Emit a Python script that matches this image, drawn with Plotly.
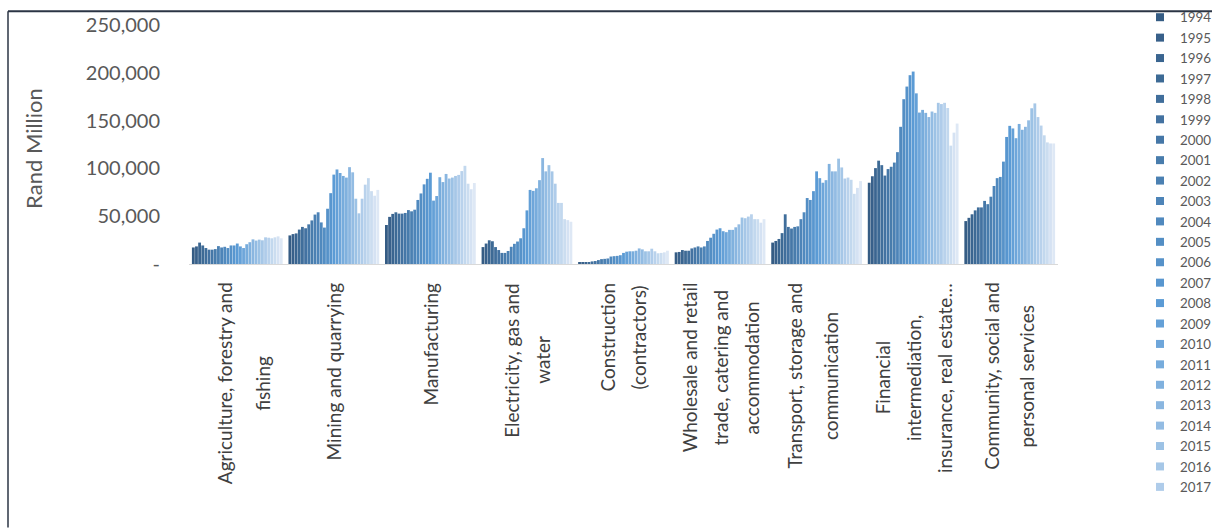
import plotly.graph_objects as go

# Sector value added, Rand million, 1994-2022
sector_lines = [
    ["Agriculture, forestry and", "fishing"],
    ["Mining and quarrying"],
    ["Manufacturing"],
    ["Electricity, gas and", "water"],
    ["Construction", "(contractors)"],
    ["Wholesale and retail", "trade, catering and", "accommodation"],
    ["Transport, storage and", "communication"],
    ["Financial", "intermediation,", "insurance, real estate…"],
    ["Community, social and", "personal services"],
]
years = list(range(1994, 2023))

agriculture = [17300, 18400, 22400, 19400, 16700, 15000, 15000, 15600, 18700, 17300,
               18000, 16700, 19400, 19400, 21400, 18400, 16700, 20700, 22800, 25800,
               24500, 25500, 24800, 27900, 27500, 26900, 27900, 28900, 26900]
mining = [29900, 31300, 32000, 36000, 38800, 37400, 41500, 45600, 51700, 54100,
          43500, 38100, 57800, 74100, 93500, 98900, 95200, 92100, 90400, 101300,
          95900, 68300, 53000, 68300, 83000, 89800, 76200, 71400, 77500]
manufacturing = [40800, 49300, 52400, 54100, 52700, 52700, 53400, 56400, 55100, 56800,
                 67000, 73800, 83300, 89100, 95500, 66300, 71100, 90800, 85700, 94200,
                 89400, 90400, 92100, 93200, 97200, 102700, 84000, 78200, 84700]
electricity = [17700, 21400, 24800, 23800, 17700, 14600, 11600, 11600, 13600, 18000,
               21100, 23500, 26900, 37400, 56100, 77500, 76500, 79200, 87700, 110800,
               96900, 103400, 96900, 84000, 63900, 63900, 46900, 45900, 44200]
construction = [1400, 1400, 1700, 2000, 2700, 3100, 4100, 5100, 5400, 5800,
                7800, 8200, 8500, 9200, 11600, 12900, 13300, 13300, 13900, 16300,
                15300, 13300, 13300, 16000, 13300, 11200, 11600, 12200, 13900]
wholesale = [12200, 12600, 14600, 13900, 13900, 16300, 17300, 18400, 17300, 18400,
             24100, 27500, 31600, 36000, 37400, 34300, 33300, 35700, 35700, 38400,
             41500, 48600, 47900, 49600, 52000, 46900, 46900, 43200, 46900]
transport = [22400, 24100, 26200, 32300, 52000, 38800, 37100, 38800, 39400, 46900,
             54100, 69000, 67000, 76200, 96900, 89800, 85000, 87700, 104700, 96900,
             96900, 110200, 101000, 89400, 90400, 88100, 73400, 79600, 86700]
financial = [85000, 91800, 100300, 108100, 103400, 92500, 99300, 101700, 106100, 117000,
             143500, 172400, 185600, 197500, 201300, 178500, 158400, 161200, 158100, 153700,
             159500, 158100, 168600, 167300, 168600, 163200, 123800, 137400, 146900]
community = [44900, 48300, 52000, 56100, 59200, 59200, 66000, 62600, 70400, 81600,
             89800, 91100, 107100, 132900, 144500, 141800, 131600, 146500, 140400, 143500,
             150300, 162900, 168000, 153700, 144800, 134600, 127200, 126100, 126100]

by_sector = [agriculture, mining, manufacturing, electricity, construction,
             wholesale, transport, financial, community]

y_ticks = [0, 50000, 100000, 150000, 200000, 250000]
y_tick_text = ["-", "50,000", "100,000", "150,000", "200,000", "250,000"]

# plot-area geometry in pixels
W, H = 1212, 529
L, R, T, B = 189, 1058, 19, 264
pw, ph = R - L, B - T


def px_x(p):
    return (p - L) / pw


def px_y(q):
    return (B - q) / ph


def blend(c1, c2, t):
    return "#" + "".join(f"{round(a + (b - a) * t):02x}" for a, b in zip(c1, c2))


dark, mid, light = (53, 92, 132), (91, 155, 213), (222, 232, 245)
n = len(years)
half = (n - 1) / 2
colors = [blend(dark, mid, i / half) if i <= half else blend(mid, light, (i - half) / half)
          for i in range(n)]

fig = go.Figure()
for i, yr in enumerate(years):
    fig.add_trace(go.Bar(
        name=str(yr),
        x=list(range(len(sector_lines))),
        y=[vals[i] for vals in by_sector],
        marker=dict(color=colors[i], line=dict(width=0)),
        showlegend=False,
    ))

# legend keys: small squares, only 1994-2017 fit in the legend box
for i, yr in enumerate(years):
    if yr > 2017:
        continue
    fig.add_trace(go.Scatter(
        name=str(yr), x=[None], y=[None], mode="markers",
        marker=dict(symbol="square", size=8, color=colors[i]),
        showlegend=True, hoverinfo="skip",
    ))

font_main = "Lato, 'Open Sans', sans-serif"
label_size = 19
plotly_gap = label_size * 1.3      # default line step inside one text block
# per-label line step (px) and horizontal nudge (px) for the wrapped labels
label_gap = [38, 31, 31, 31, 31, 31, 36, 31, 35]
label_nudge = [6, 0, 0, 0, 0, 0, -4, 0, 0]

annotations = []
for j, lines in enumerate(sector_lines):
    nl = len(lines)
    for k in range(nl):
        parts = [ln if m == k else f"<span style='color:rgba(0,0,0,0)'>{ln}</span>"
                 for m, ln in enumerate(lines)]
        annotations.append(dict(
            x=j, xref="x", y=px_y(281), yref="paper",
            text="<br>".join(parts), showarrow=False, textangle=-90,
            xanchor="center", yanchor="top", align="center",
            xshift=label_nudge[j] + (k - (nl - 1) / 2) * (label_gap[j] - plotly_gap),
            font=dict(family=font_main, size=label_size, color="#404040"),
        ))
annotations.append(dict(
    x=px_x(34), xref="paper", y=px_y(146), yref="paper",
    text="Rand Million", showarrow=False, textangle=-90,
    xanchor="center", yanchor="middle",
    font=dict(family=font_main, size=22, color="#595959"),
))

shapes = [
    dict(type="line", xref="paper", yref="paper", x0=px_x(8), x1=px_x(W + 5),
         y0=px_y(5), y1=px_y(5), line=dict(color="#2b3545", width=2)),
    dict(type="line", xref="paper", yref="paper", x0=px_x(8), x1=px_x(8),
         y0=px_y(5), y1=px_y(H + 5), line=dict(color="#2b3545", width=1.5)),
]

fig.update_layout(
    width=W, height=H,
    margin=dict(l=L, r=W - R, t=T, b=H - B, pad=0),
    paper_bgcolor="white", plot_bgcolor="white",
    barmode="group", bargap=0.057, bargroupgap=0.1,
    font=dict(family=font_main, color="#595959"),
    xaxis=dict(range=[-0.5, len(sector_lines) - 0.5], showticklabels=False,
               showgrid=False, zeroline=False, showline=True,
               linecolor="#d9d9d9", linewidth=1, ticks=""),
    yaxis=dict(range=[0, 250000], tickvals=y_ticks, ticktext=y_tick_text,
               showgrid=False, zeroline=False, showline=False, ticks="",
               ticklabelstandoff=28,
               tickfont=dict(family=font_main, size=20, color="#595959")),
    legend=dict(x=1140 / W, xref="container", y=1 - 2 / H, yref="container",
                xanchor="left", yanchor="top", maxheight=1,
                font=dict(family=font_main, size=13.4, color="#595959"),
                tracegroupgap=0, bgcolor="rgba(0,0,0,0)"),
    annotations=annotations,
    shapes=shapes,
)

fig.write_html("out.html")
